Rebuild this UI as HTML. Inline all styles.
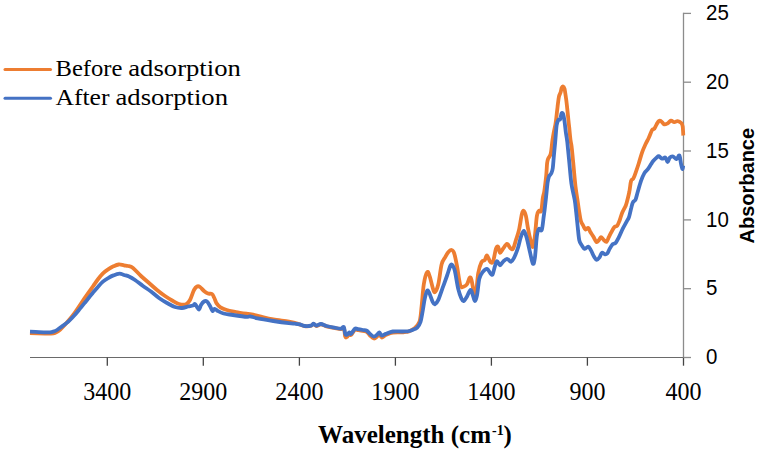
<!DOCTYPE html>
<html><head><meta charset="utf-8"><style>
html,body{margin:0;padding:0;background:#fff;width:761px;height:451px;overflow:hidden}
svg{display:block}
</style></head><body>
<svg width="761" height="451" viewBox="0 0 761 451">
<line x1="30" y1="357.5" x2="684" y2="357.5" stroke="#6a6a6a" stroke-width="1.2"/>
<line x1="107.3" y1="357.5" x2="107.3" y2="365.7" stroke="#444" stroke-width="1.3"/>
<line x1="203.3" y1="357.5" x2="203.3" y2="365.7" stroke="#444" stroke-width="1.3"/>
<line x1="299.4" y1="357.5" x2="299.4" y2="365.7" stroke="#444" stroke-width="1.3"/>
<line x1="395.4" y1="357.5" x2="395.4" y2="365.7" stroke="#444" stroke-width="1.3"/>
<line x1="491.4" y1="357.5" x2="491.4" y2="365.7" stroke="#444" stroke-width="1.3"/>
<line x1="587.4" y1="357.5" x2="587.4" y2="365.7" stroke="#444" stroke-width="1.3"/>
<line x1="683.5" y1="357.5" x2="683.5" y2="365.7" stroke="#444" stroke-width="1.3"/>
<line x1="683.5" y1="12.8" x2="683.5" y2="357.5" stroke="#8c8c8c" stroke-width="1.3"/>
<line x1="683.5" y1="357.5" x2="691" y2="357.5" stroke="#8c8c8c" stroke-width="1.3"/>
<text x="0" y="0" transform="translate(706,364.2) scale(0.94,1)" font-family="Liberation Sans, sans-serif" font-size="21.8" fill="#000">0</text>
<line x1="683.5" y1="288.7" x2="691" y2="288.7" stroke="#8c8c8c" stroke-width="1.3"/>
<text x="0" y="0" transform="translate(706,295.4) scale(0.94,1)" font-family="Liberation Sans, sans-serif" font-size="21.8" fill="#000">5</text>
<line x1="683.5" y1="219.9" x2="691" y2="219.9" stroke="#8c8c8c" stroke-width="1.3"/>
<text x="0" y="0" transform="translate(706,226.6) scale(0.94,1)" font-family="Liberation Sans, sans-serif" font-size="21.8" fill="#000">10</text>
<line x1="683.5" y1="151.0" x2="691" y2="151.0" stroke="#8c8c8c" stroke-width="1.3"/>
<text x="0" y="0" transform="translate(706,157.7) scale(0.94,1)" font-family="Liberation Sans, sans-serif" font-size="21.8" fill="#000">15</text>
<line x1="683.5" y1="82.2" x2="691" y2="82.2" stroke="#8c8c8c" stroke-width="1.3"/>
<text x="0" y="0" transform="translate(706,88.9) scale(0.94,1)" font-family="Liberation Sans, sans-serif" font-size="21.8" fill="#000">20</text>
<line x1="683.5" y1="13.4" x2="691" y2="13.4" stroke="#8c8c8c" stroke-width="1.3"/>
<text x="0" y="0" transform="translate(706,20.1) scale(0.94,1)" font-family="Liberation Sans, sans-serif" font-size="21.8" fill="#000">25</text>
<text x="0" y="0" transform="translate(107.3,399.7) scale(0.925,1)" text-anchor="middle" font-family="Liberation Serif, serif" font-size="26" fill="#000">3400</text>
<text x="0" y="0" transform="translate(203.3,399.7) scale(0.925,1)" text-anchor="middle" font-family="Liberation Serif, serif" font-size="26" fill="#000">2900</text>
<text x="0" y="0" transform="translate(299.4,399.7) scale(0.925,1)" text-anchor="middle" font-family="Liberation Serif, serif" font-size="26" fill="#000">2400</text>
<text x="0" y="0" transform="translate(395.4,399.7) scale(0.925,1)" text-anchor="middle" font-family="Liberation Serif, serif" font-size="26" fill="#000">1900</text>
<text x="0" y="0" transform="translate(491.4,399.7) scale(0.925,1)" text-anchor="middle" font-family="Liberation Serif, serif" font-size="26" fill="#000">1400</text>
<text x="0" y="0" transform="translate(587.4,399.7) scale(0.925,1)" text-anchor="middle" font-family="Liberation Serif, serif" font-size="26" fill="#000">900</text>
<text x="0" y="0" transform="translate(683.5,399.7) scale(0.925,1)" text-anchor="middle" font-family="Liberation Serif, serif" font-size="26" fill="#000">400</text>
<text x="318" y="443.4" font-family="Liberation Serif, serif" font-weight="bold" font-size="24.8" fill="#000" textLength="173" lengthAdjust="spacingAndGlyphs">Wavelength (cm</text>
<text x="492" y="435" font-family="Liberation Serif, serif" font-weight="bold" font-size="14" fill="#000">-1</text>
<text x="503.5" y="443.4" font-family="Liberation Serif, serif" font-weight="bold" font-size="24.8" fill="#000">)</text>
<text transform="translate(754,243.4) rotate(-90)" font-family="Liberation Sans, sans-serif" font-weight="bold" font-size="20" fill="#000" textLength="115.5" lengthAdjust="spacingAndGlyphs">Absorbance</text>
<line x1="5" y1="69.5" x2="50.5" y2="69.5" stroke="#ED7D31" stroke-width="3" stroke-linecap="round"/>
<line x1="5" y1="98.2" x2="50.5" y2="98.2" stroke="#4472C4" stroke-width="3" stroke-linecap="round"/>
<text x="55.5" y="76.4" font-family="Liberation Serif, serif" font-size="23.5" fill="#000" textLength="67" lengthAdjust="spacingAndGlyphs">Before</text>
<text x="128.3" y="76.4" font-family="Liberation Serif, serif" font-size="23.5" fill="#000" textLength="112.5" lengthAdjust="spacingAndGlyphs">adsorption</text>
<text x="55.5" y="104.7" font-family="Liberation Serif, serif" font-size="23.5" fill="#000" textLength="54" lengthAdjust="spacingAndGlyphs">After</text>
<text x="115.5" y="104.7" font-family="Liberation Serif, serif" font-size="23.5" fill="#000" textLength="112.5" lengthAdjust="spacingAndGlyphs">adsorption</text>
<path d="M30.0,333.0 C32.5,333.1 41.7,333.5 45.0,333.6 C48.3,333.7 48.3,333.7 50.0,333.6 C51.7,333.5 53.3,333.6 55.0,333.0 C56.7,332.4 58.2,331.4 60.0,329.8 C61.8,328.2 64.0,325.7 66.0,323.5 C68.0,321.3 70.0,319.1 72.0,316.5 C74.0,313.9 76.2,310.7 78.0,308.0 C79.8,305.3 81.4,302.9 83.0,300.5 C84.6,298.1 86.1,296.1 87.8,293.7 C89.5,291.3 91.5,288.4 93.2,286.0 C94.9,283.6 96.2,281.6 97.8,279.5 C99.4,277.4 101.0,275.3 102.7,273.6 C104.4,271.9 106.3,270.6 108.1,269.4 C109.9,268.2 111.6,267.1 113.4,266.3 C115.2,265.5 116.9,264.7 118.7,264.5 C120.5,264.3 122.5,265.1 124.0,265.3 C125.5,265.6 126.5,265.6 128.0,266.0 C129.5,266.4 130.8,266.3 133.0,268.0 C135.2,269.7 138.3,273.5 141.0,276.0 C143.7,278.5 146.3,280.7 149.0,283.0 C151.7,285.3 154.3,287.8 157.0,290.0 C159.7,292.2 162.3,294.2 165.0,296.0 C167.7,297.8 170.7,299.7 173.0,301.0 C175.3,302.3 176.8,303.4 179.0,304.0 C181.2,304.6 184.2,305.0 186.0,304.3 C187.8,303.6 188.7,302.4 190.0,300.0 C191.3,297.6 192.8,292.2 194.0,290.0 C195.2,287.8 196.0,287.0 197.0,286.5 C198.0,286.0 198.8,286.2 200.0,287.0 C201.2,287.8 202.7,289.9 204.0,291.0 C205.3,292.1 206.7,293.1 208.0,293.6 C209.3,294.1 210.9,293.3 212.0,294.0 C213.1,294.7 213.5,296.4 214.3,298.0 C215.1,299.6 215.6,301.8 216.6,303.4 C217.6,304.9 218.8,306.2 220.5,307.3 C222.2,308.4 224.1,309.2 226.7,310.0 C229.3,310.8 232.4,311.3 236.0,312.0 C239.6,312.7 245.9,313.6 248.5,314.0 C251.1,314.4 249.5,313.9 251.6,314.3 C253.7,314.7 257.4,315.8 261.0,316.6 C264.6,317.5 268.7,318.6 273.3,319.4 C277.9,320.2 284.8,320.9 288.9,321.6 C293.0,322.4 295.6,323.1 298.2,323.9 C300.8,324.6 302.4,325.8 304.5,326.1 C306.6,326.4 309.3,326.2 310.8,325.9 C312.3,325.5 312.7,324.0 313.6,324.0 C314.5,324.0 315.1,325.9 316.3,326.0 C317.5,326.1 319.3,324.2 321.0,324.3 C322.7,324.4 324.3,325.7 326.5,326.3 C328.7,326.9 332.0,327.5 334.4,328.0 C336.8,328.5 339.1,329.2 340.7,329.2 C342.3,329.2 343.1,326.8 343.9,328.0 C344.6,329.2 344.7,335.0 345.2,336.5 C345.7,338.0 346.3,337.5 347.0,337.0 C347.7,336.5 348.7,333.8 349.4,333.5 C350.1,333.2 350.1,335.6 351.0,335.0 C351.9,334.4 353.8,330.5 355.0,329.7 C356.2,328.9 356.8,330.0 358.1,330.2 C359.4,330.4 361.4,330.7 362.8,331.0 C364.2,331.3 365.6,331.1 366.8,331.8 C368.0,332.6 368.8,334.4 370.0,335.5 C371.2,336.6 372.7,338.3 373.9,338.5 C375.1,338.7 376.1,337.3 377.0,336.5 C377.9,335.7 378.6,333.3 379.4,333.5 C380.2,333.7 380.6,337.2 381.7,337.5 C382.8,337.8 383.8,335.8 385.7,335.0 C387.6,334.2 390.0,332.9 392.8,332.5 C395.6,332.1 400.3,332.4 402.3,332.3 C404.3,332.2 403.9,332.1 405.0,332.0 C406.1,331.9 407.1,332.1 408.6,331.5 C410.1,330.9 412.1,330.3 413.9,328.7 C415.7,327.1 418.1,325.7 419.4,322.0 C420.7,318.3 420.9,312.8 421.6,306.5 C422.3,300.2 422.9,290.0 423.8,284.3 C424.7,278.6 426.2,273.5 427.2,272.2 C428.2,270.9 428.9,274.0 429.8,276.6 C430.7,279.2 431.9,285.1 432.7,287.7 C433.5,290.3 434.0,292.7 434.9,292.1 C435.8,291.5 437.2,288.9 438.3,284.3 C439.4,279.7 440.5,268.8 441.6,264.4 C442.7,260.0 443.8,259.7 444.9,257.7 C446.0,255.7 447.1,253.5 448.2,252.2 C449.3,250.9 450.6,249.8 451.6,250.0 C452.6,250.2 453.3,250.5 454.2,253.3 C455.1,256.1 456.1,261.2 457.1,266.6 C458.1,272.0 459.3,282.2 460.4,285.5 C461.5,288.8 462.7,286.8 463.8,286.6 C464.9,286.4 466.0,285.8 467.0,284.3 C468.0,282.8 468.9,278.4 469.7,277.7 C470.4,277.0 470.8,277.3 471.5,279.9 C472.2,282.5 473.4,291.0 474.2,293.2 C474.9,295.4 475.3,296.5 476.0,293.2 C476.7,289.9 477.3,278.5 478.2,273.3 C479.1,268.1 480.4,264.4 481.5,262.2 C482.6,260.0 483.9,261.1 484.8,260.0 C485.7,258.9 486.1,255.1 487.0,255.5 C487.9,255.9 489.4,261.3 490.4,262.2 C491.4,263.1 492.3,263.3 493.2,261.1 C494.1,258.9 495.1,251.3 495.9,248.9 C496.7,246.5 497.4,246.0 498.1,246.7 C498.8,247.3 499.2,252.5 500.0,252.8 C500.8,253.2 501.8,250.3 503.0,248.8 C504.2,247.3 505.8,244.0 507.0,243.8 C508.2,243.6 509.0,247.0 510.0,247.8 C511.0,248.6 512.0,250.1 513.0,248.8 C514.0,247.5 515.0,243.0 516.0,239.8 C517.0,236.7 518.0,234.2 519.0,229.9 C520.0,225.6 521.1,217.1 521.9,213.9 C522.7,210.7 523.2,210.6 523.9,210.9 C524.6,211.2 525.2,213.1 525.9,215.9 C526.6,218.7 527.1,223.6 527.9,227.9 C528.7,232.2 530.1,238.7 530.9,241.8 C531.7,245.0 532.2,247.8 532.9,246.8 C533.6,245.8 534.2,241.0 534.9,235.8 C535.6,230.7 536.2,220.1 536.9,215.9 C537.6,211.8 538.2,211.7 538.9,210.9 C539.6,210.1 540.6,213.1 541.2,210.9 C541.9,208.8 542.3,201.3 542.8,198.0 C543.3,194.7 543.7,194.9 544.3,191.2 C544.9,187.5 545.7,180.3 546.2,175.7 C546.7,171.0 546.8,166.2 547.1,163.3 C547.4,160.5 547.6,160.2 548.2,158.6 C548.8,157.0 550.1,156.5 550.8,153.5 C551.5,150.5 551.9,143.9 552.4,140.5 C552.9,137.1 553.1,135.9 553.6,133.3 C554.1,130.7 554.8,127.5 555.3,125.0 C555.8,122.5 556.0,120.5 556.3,118.0 C556.6,115.5 556.9,112.3 557.2,110.0 C557.5,107.7 557.6,106.2 557.9,104.0 C558.2,101.8 558.5,98.7 558.9,96.8 C559.3,94.9 560.0,94.1 560.5,92.6 C561.0,91.1 561.3,88.8 561.7,87.8 C562.1,86.8 562.3,86.2 562.8,86.3 C563.3,86.4 564.0,86.5 564.5,88.6 C565.0,90.7 565.6,95.4 566.1,98.8 C566.6,102.2 566.9,105.7 567.3,109.2 C567.7,112.7 568.1,116.9 568.4,120.0 C568.7,123.1 568.9,124.7 569.3,128.0 C569.6,131.3 570.1,136.9 570.5,140.0 C570.9,143.1 571.1,142.7 571.6,146.6 C572.1,150.5 572.6,156.7 573.3,163.3 C573.9,170.0 574.8,180.4 575.5,186.5 C576.2,192.6 576.9,195.7 577.5,200.0 C578.1,204.3 578.7,208.9 579.3,212.4 C579.9,215.9 580.2,218.8 580.9,221.0 C581.5,223.2 582.4,224.2 583.2,225.6 C584.0,227.0 584.6,229.1 585.5,229.5 C586.4,229.9 587.5,227.5 588.3,227.9 C589.1,228.3 589.4,230.4 590.2,231.8 C591.0,233.2 592.3,234.8 593.3,236.5 C594.3,238.2 595.5,241.2 596.4,241.9 C597.3,242.6 597.9,241.2 598.7,240.4 C599.5,239.6 600.2,237.3 601.0,237.2 C601.8,237.1 602.5,238.8 603.4,239.6 C604.3,240.4 605.6,242.3 606.5,241.9 C607.4,241.5 608.0,238.8 608.8,237.2 C609.6,235.6 610.2,234.3 611.1,232.6 C612.0,230.9 613.2,228.4 614.2,227.2 C615.2,226.0 616.4,226.8 617.3,225.6 C618.2,224.4 618.9,222.3 619.7,220.2 C620.5,218.1 621.1,215.4 622.0,213.2 C622.9,211.0 624.3,208.7 625.1,207.0 C625.9,205.3 625.9,205.5 626.6,203.0 C627.3,200.5 628.5,195.7 629.3,192.0 C630.0,188.3 630.4,183.1 631.1,180.9 C631.8,178.7 632.6,180.0 633.3,178.7 C634.0,177.4 634.6,175.7 635.5,173.1 C636.4,170.5 637.7,166.7 638.8,163.2 C639.9,159.7 641.1,155.2 642.2,152.1 C643.3,148.9 644.4,146.7 645.5,144.3 C646.6,141.9 647.7,140.1 648.8,137.7 C649.9,135.3 651.2,131.4 652.1,129.9 C653.0,128.4 653.5,129.7 654.3,128.8 C655.0,127.9 655.9,125.7 656.6,124.4 C657.4,123.1 658.1,121.6 658.8,121.1 C659.5,120.5 660.1,120.5 661.0,121.1 C661.9,121.6 663.2,124.0 664.3,124.4 C665.4,124.8 666.5,123.9 667.6,123.3 C668.7,122.7 669.9,120.8 671.0,120.6 C672.1,120.4 673.2,122.1 674.3,122.2 C675.4,122.3 676.4,121.0 677.6,121.1 C678.8,121.2 680.4,122.1 681.3,123.0 C682.1,123.9 682.4,124.4 682.7,126.5 C683.0,128.6 683.2,134.0 683.3,135.5" fill="none" stroke="#ED7D31" stroke-width="3.8" stroke-linejoin="round" stroke-linecap="butt"/>
<path d="M30.0,331.6 C32.5,331.7 41.7,332.3 45.0,332.4 C48.3,332.5 48.6,332.4 50.0,332.3 C51.4,332.2 52.1,332.0 53.3,331.6 C54.5,331.2 55.7,330.8 57.0,330.0 C58.3,329.2 59.9,328.0 61.1,327.1 C62.4,326.2 63.3,325.4 64.5,324.5 C65.7,323.6 66.8,323.0 68.3,321.6 C69.8,320.2 71.9,318.0 73.8,316.0 C75.7,314.0 77.6,311.6 79.4,309.4 C81.2,307.2 83.2,304.9 84.9,302.7 C86.7,300.5 88.7,297.9 89.9,296.3 C91.2,294.8 91.0,295.0 92.4,293.4 C93.8,291.8 96.5,288.5 98.3,286.5 C100.0,284.5 101.3,283.0 102.9,281.6 C104.5,280.2 106.3,279.1 108.1,278.1 C109.8,277.1 111.5,276.1 113.4,275.4 C115.3,274.6 117.8,273.7 119.6,273.6 C121.4,273.5 122.4,274.5 124.0,275.0 C125.6,275.5 127.2,275.7 129.0,276.5 C130.8,277.3 132.7,278.4 135.0,280.0 C137.3,281.6 140.3,284.1 143.0,286.0 C145.7,287.9 148.3,289.5 151.0,291.5 C153.7,293.5 156.3,296.1 159.0,298.0 C161.7,299.9 164.3,301.5 167.0,303.0 C169.7,304.5 172.5,306.2 175.0,307.0 C177.5,307.8 179.8,308.1 182.0,308.0 C184.2,307.9 186.2,306.9 188.0,306.5 C189.8,306.1 191.8,305.9 193.0,305.5 C194.2,305.1 194.3,303.8 195.0,304.0 C195.7,304.2 196.3,306.1 197.0,307.0 C197.7,307.9 198.3,309.8 199.0,309.5 C199.7,309.2 200.2,306.3 201.0,305.0 C201.8,303.7 203.0,302.1 204.0,301.5 C205.0,300.9 206.0,300.8 207.0,301.5 C208.0,302.2 209.1,304.4 210.0,306.0 C210.9,307.6 211.8,310.5 212.5,311.0 C213.2,311.5 213.5,308.9 214.3,308.8 C215.1,308.8 215.9,309.9 217.4,310.7 C218.9,311.5 221.0,312.8 223.6,313.5 C226.2,314.2 229.1,314.4 233.0,315.0 C236.9,315.6 244.2,316.7 247.0,316.9 C249.8,317.1 248.2,316.1 250.0,316.3 C251.8,316.6 253.9,317.6 257.8,318.4 C261.7,319.2 268.1,320.2 273.3,321.0 C278.5,321.8 285.3,322.7 288.9,323.1 C292.5,323.6 293.2,323.5 295.0,323.7 C296.8,323.9 298.1,324.0 299.7,324.4 C301.3,324.8 302.6,325.8 304.5,326.0 C306.4,326.2 309.3,326.1 310.8,325.7 C312.3,325.3 312.7,323.7 313.6,323.7 C314.5,323.7 315.1,325.6 316.3,325.7 C317.5,325.8 319.3,323.9 321.0,324.0 C322.7,324.1 324.3,325.4 326.5,326.0 C328.7,326.6 332.0,327.2 334.4,327.6 C336.8,328.1 339.1,328.8 340.7,328.7 C342.3,328.6 343.1,326.2 343.9,327.1 C344.6,328.0 344.7,332.6 345.2,333.9 C345.7,335.2 346.3,335.0 347.0,334.7 C347.7,334.4 348.7,332.4 349.4,332.3 C350.1,332.2 350.1,334.5 351.0,333.9 C351.9,333.3 353.8,329.5 355.0,328.7 C356.2,327.9 356.8,329.0 358.1,329.2 C359.4,329.4 361.4,329.7 362.8,330.0 C364.2,330.3 365.6,330.2 366.8,330.8 C368.0,331.4 368.8,332.9 370.0,333.9 C371.2,334.9 372.7,336.5 373.9,336.6 C375.1,336.7 376.1,335.4 377.0,334.7 C377.9,334.0 378.6,332.2 379.4,332.3 C380.2,332.4 380.6,335.2 381.7,335.5 C382.8,335.8 383.8,334.6 385.7,333.9 C387.6,333.2 390.0,331.9 392.8,331.5 C395.6,331.1 399.7,331.6 402.3,331.5 C404.9,331.4 406.9,331.4 408.6,331.2 C410.3,330.9 411.1,330.6 412.5,330.0 C413.9,329.4 415.9,328.9 417.2,327.6 C418.5,326.3 419.6,324.8 420.5,322.0 C421.4,319.2 421.9,315.1 422.7,311.0 C423.4,306.9 424.2,301.0 425.0,297.6 C425.8,294.2 426.5,291.3 427.2,290.6 C427.9,289.9 428.5,291.3 429.4,293.2 C430.3,295.1 431.8,300.1 432.7,302.0 C433.6,303.9 434.0,304.7 434.9,304.3 C435.8,303.9 437.0,302.7 438.3,299.9 C439.6,297.1 441.2,291.8 442.7,287.7 C444.2,283.6 445.8,279.2 447.1,275.5 C448.4,271.8 449.6,267.2 450.5,265.5 C451.4,263.8 452.0,264.6 452.7,265.5 C453.4,266.4 454.0,267.1 454.9,271.0 C455.8,274.9 457.1,284.2 458.2,288.8 C459.3,293.4 460.6,296.8 461.5,298.8 C462.4,300.8 462.9,301.4 463.8,301.0 C464.7,300.6 465.9,298.4 467.0,296.5 C468.1,294.6 469.5,290.3 470.4,289.9 C471.3,289.5 471.9,292.4 472.6,294.3 C473.3,296.2 474.1,300.8 474.8,301.0 C475.5,301.2 476.2,299.1 477.0,295.4 C477.8,291.7 478.4,282.7 479.3,278.8 C480.2,274.9 481.3,273.9 482.6,272.2 C483.9,270.5 485.7,268.6 487.0,268.8 C488.3,269.0 489.5,272.4 490.4,273.3 C491.3,274.2 491.9,275.5 492.6,274.4 C493.3,273.3 494.1,268.8 494.8,266.6 C495.5,264.4 496.1,261.3 497.0,261.1 C497.9,260.9 499.0,265.2 500.0,265.3 C501.0,265.4 501.8,262.9 503.0,261.8 C504.2,260.7 505.7,258.8 507.0,258.8 C508.3,258.8 509.8,262.0 511.0,261.8 C512.2,261.6 512.8,260.1 514.0,257.8 C515.2,255.5 516.9,251.3 518.0,247.8 C519.1,244.3 519.9,239.6 520.9,236.8 C521.9,234.0 522.9,230.6 523.9,230.9 C524.9,231.2 525.9,235.3 526.9,238.8 C527.9,242.3 528.9,247.7 529.9,251.8 C530.9,256.0 532.1,262.7 532.9,263.7 C533.7,264.7 534.2,262.4 534.9,257.8 C535.6,253.2 536.2,240.6 536.9,235.8 C537.6,231.0 538.1,229.9 538.9,228.9 C539.7,227.9 541.0,232.1 541.8,229.9 C542.6,227.7 543.3,219.2 543.8,215.9 C544.3,212.6 544.2,213.3 544.6,210.0 C545.0,206.7 545.7,200.5 546.2,195.8 C546.7,191.1 547.2,185.1 547.7,181.9 C548.2,178.7 548.4,177.8 549.0,176.4 C549.6,175.0 550.7,174.7 551.3,173.3 C551.9,171.9 552.4,170.9 552.8,167.9 C553.2,164.9 553.5,159.7 553.9,155.5 C554.3,151.3 554.6,148.0 555.1,143.0 C555.6,138.0 556.1,129.5 556.6,125.6 C557.1,121.7 557.8,120.9 558.4,119.8 C559.0,118.7 559.7,120.2 560.2,119.1 C560.7,118.0 561.1,114.1 561.6,113.3 C562.1,112.5 562.6,112.7 563.1,114.0 C563.6,115.3 564.0,118.1 564.5,121.2 C565.0,124.3 565.4,129.3 565.9,132.8 C566.4,136.3 566.8,137.4 567.3,142.0 C567.8,146.6 568.4,153.3 569.1,160.2 C569.8,167.1 570.5,176.8 571.4,183.4 C572.3,190.0 573.9,195.2 574.7,200.0 C575.5,204.8 575.7,207.8 576.2,212.4 C576.7,217.1 577.3,223.2 577.8,227.9 C578.3,232.6 578.7,237.6 579.3,240.4 C579.9,243.2 580.7,243.6 581.6,245.0 C582.5,246.4 583.6,248.6 584.7,248.9 C585.8,249.2 587.2,246.3 588.3,246.6 C589.3,246.8 590.0,248.7 591.0,250.4 C592.0,252.1 593.1,255.1 594.1,256.7 C595.1,258.3 595.8,259.7 596.7,259.8 C597.6,259.9 598.6,258.6 599.5,257.4 C600.4,256.2 600.9,253.3 601.8,252.8 C602.7,252.3 604.0,254.2 604.9,254.3 C605.8,254.4 606.4,254.4 607.2,253.5 C608.0,252.6 608.7,250.5 609.6,248.9 C610.5,247.3 611.7,245.2 612.7,244.2 C613.7,243.2 614.8,243.9 615.8,242.7 C616.8,241.5 617.7,239.5 618.9,237.2 C620.1,234.9 621.5,231.3 622.8,228.7 C624.1,226.1 625.6,223.6 626.6,221.7 C627.6,219.8 628.2,219.4 629.0,217.1 C629.8,214.8 630.6,210.3 631.3,207.8 C631.9,205.3 632.2,203.7 632.9,202.3 C633.6,201.0 634.7,201.4 635.5,199.7 C636.3,198.0 636.8,195.1 637.7,192.0 C638.6,188.9 639.9,184.1 641.0,180.9 C642.1,177.8 643.3,175.0 644.4,173.1 C645.5,171.2 646.6,170.9 647.7,169.4 C648.8,167.9 650.1,165.7 651.0,164.3 C651.9,162.9 652.3,162.1 653.2,161.0 C654.1,159.9 655.7,158.4 656.6,157.6 C657.5,156.8 657.9,155.9 658.8,156.1 C659.7,156.3 661.0,158.4 662.1,158.7 C663.2,158.9 664.5,157.0 665.4,157.6 C666.3,158.2 666.9,162.0 667.6,162.0 C668.3,162.0 668.9,158.5 669.8,157.6 C670.7,156.7 672.1,156.2 673.2,156.5 C674.3,156.8 675.5,159.4 676.5,159.2 C677.5,159.0 678.7,154.7 679.4,155.4 C680.1,156.1 680.4,160.9 680.9,163.2 C681.4,165.5 682.0,168.6 682.4,169.0 C682.8,169.4 683.1,166.1 683.3,165.5" fill="none" stroke="#4472C4" stroke-width="3.8" stroke-linejoin="round" stroke-linecap="butt"/>
</svg>
</body></html>
